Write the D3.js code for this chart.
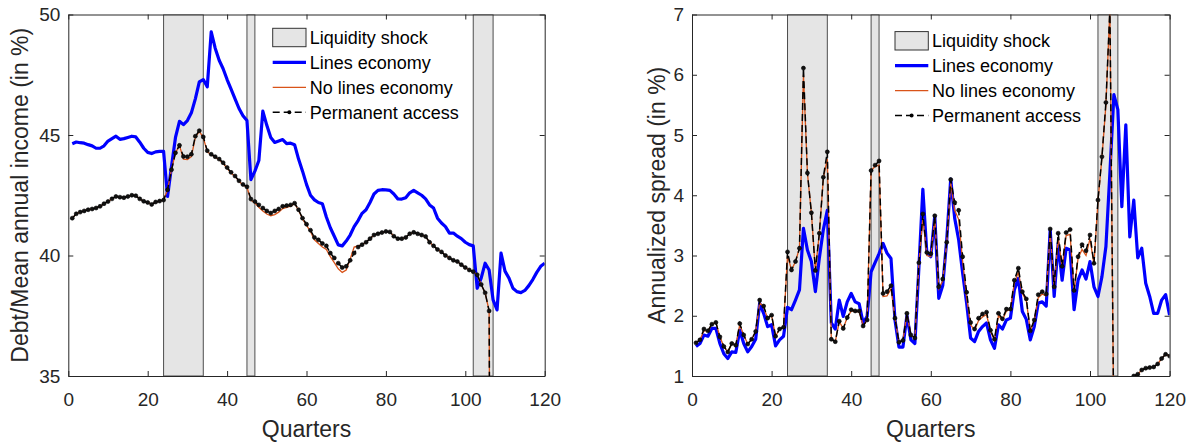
<!DOCTYPE html>
<html>
<head>
<meta charset="utf-8">
<script src="https://cdn.jsdelivr.net/npm/d3@7"></script>
<style>
  body { margin: 0; background: #fff; }
  svg { display: block; font-family: "Liberation Sans", Arial, sans-serif; }
  .axis path, .axis line { stroke: #262626; }
  .axis text { fill: #262626; font-size: 19px; }
</style>
</head>
<body>
<div id="chart"></div>
<script>
// liquidity shock periods (quarters)
const shockPeriods = [[24, 34], [45, 47], [102, 107]];

const xTicks = [0, 20, 40, 60, 80, 100, 120];
const leftYTicks = [35, 40, 45, 50];
const rightYTicks = [1, 2, 3, 4, 5, 6, 7];

const legendLabels = ["Liquidity shock", "Lines economy", "No lines economy", "Permanent access"];

// Debt / mean annual income (in %), quarters 1..120
const debtLines = [
  44.64, 44.71, 44.68, 44.66, 44.60, 44.55, 44.45, 44.45, 44.55, 44.75,
  44.85, 44.95, 44.82, 44.85, 44.90, 44.95, 44.92, 44.70, 44.45, 44.28,
  44.23, 44.30, 44.32, 44.32, 42.45, 43.70, 44.90, 45.57, 45.43, 45.60,
  45.92, 46.50, 47.20, 47.30, 47.00, 49.28, 48.60, 48.10, 47.75, 47.30,
  46.90, 46.50, 46.10, 45.80, 45.60, 43.15, 43.50, 43.94, 45.99, 45.40,
  44.90, 44.69, 44.75, 44.81, 44.64, 44.66, 44.60, 44.00, 43.50, 42.95,
  42.50, 42.31, 42.20, 42.15, 41.60, 41.15, 40.80, 40.44, 40.40, 40.60,
  40.85, 41.20, 41.45, 41.75, 41.90, 42.20, 42.55, 42.70, 42.73, 42.72,
  42.70, 42.55, 42.35, 42.34, 42.40, 42.60, 42.70, 42.60, 42.50, 42.35,
  42.10, 41.97, 41.55, 41.35, 41.20, 40.93, 40.93, 40.80, 40.70, 40.55,
  40.45, 40.40, 38.64, 39.06, 39.68, 39.40, 38.16, 37.74, 40.10, 39.35,
  39.06, 38.64, 38.50, 38.46, 38.55, 38.75, 39.00, 39.30, 39.55, 39.68
];
const debtNoLines = [
  41.55, 41.73, 41.80, 41.85, 41.90, 41.93, 41.97, 42.04, 42.15, 42.24,
  42.35, 42.45, 42.42, 42.40, 42.45, 42.50, 42.48, 42.35, 42.25, 42.20,
  42.12, 42.22, 42.26, 42.30, 42.73, 43.56, 44.26, 44.57, 44.00, 43.98,
  44.10, 44.90, 45.15, 44.90, 44.30, 44.18, 44.08, 43.98, 43.82, 43.62,
  43.42, 43.28, 43.08, 42.93, 42.83, 42.30, 42.18, 42.00, 41.85, 41.72,
  41.65, 41.70, 41.80, 41.95, 42.00, 42.05, 42.15, 41.88, 41.52, 41.25,
  41.00, 40.65, 40.50, 40.35, 40.25, 39.95, 39.70, 39.45, 39.30, 39.40,
  39.85, 40.35, 40.40, 40.45, 40.55, 40.70, 40.85, 40.90, 40.95, 41.00,
  40.98, 40.80, 40.70, 40.70, 40.75, 40.90, 40.96, 40.90, 40.85, 40.79,
  40.55, 40.40, 40.25, 40.15, 40.00, 39.90, 39.80, 39.75, 39.62, 39.50,
  39.40, 39.33, 39.20, 38.80, 38.45, 37.70, 0, 0, 0, 0,
  0, 0, 0, 0, 0, 0, 0, 0, 0, 0
];
const debtPermanent = [
  41.55, 41.73, 41.80, 41.85, 41.90, 41.93, 41.97, 42.04, 42.15, 42.24,
  42.35, 42.45, 42.42, 42.40, 42.45, 42.50, 42.48, 42.35, 42.25, 42.20,
  42.12, 42.22, 42.26, 42.30, 42.73, 43.56, 44.26, 44.57, 44.11, 44.10,
  44.20, 44.95, 45.18, 44.92, 44.35, 44.20, 44.10, 44.00, 43.85, 43.65,
  43.45, 43.30, 43.10, 42.95, 42.85, 42.34, 42.24, 42.10, 41.97, 41.85,
  41.76, 41.85, 41.93, 42.04, 42.07, 42.10, 42.17, 41.90, 41.55, 41.30,
  41.05, 40.75, 40.65, 40.50, 40.40, 40.10, 39.90, 39.68, 39.50, 39.55,
  39.80, 40.10, 40.35, 40.45, 40.55, 40.70, 40.85, 40.90, 40.95, 41.00,
  40.98, 40.80, 40.70, 40.70, 40.75, 40.90, 40.96, 40.90, 40.85, 40.79,
  40.55, 40.40, 40.25, 40.15, 40.00, 39.90, 39.80, 39.75, 39.62, 39.50,
  39.40, 39.33, 39.20, 38.80, 38.45, 37.70, 0, 0, 0, 0,
  0, 0, 0, 0, 0, 0, 0, 0, 0, 0
];

// Annualized spread (in %), quarters 1..120
const spreadLines = [
  1.49, 1.54, 1.68, 1.66, 1.79, 1.79, 1.54, 1.37, 1.29, 1.40,
  1.39, 1.76, 1.54, 1.40, 1.49, 1.61, 2.21, 2.04, 1.82, 1.85,
  1.50, 1.60, 1.66, 2.14, 2.10, 2.26, 2.43, 3.45, 3.09, 2.90,
  2.40, 2.96, 3.43, 3.75, 1.88, 1.78, 2.26, 1.99, 2.23, 2.37,
  2.23, 2.20, 1.88, 1.99, 2.73, 2.88, 3.03, 3.20, 3.04, 2.95,
  1.93, 1.48, 1.48, 2.01, 1.60, 1.54, 2.79, 4.10, 3.05, 2.98,
  3.66, 2.29, 2.50, 3.26, 4.27, 3.62, 3.26, 2.71, 2.21, 1.63,
  1.57, 1.74, 1.82, 1.88, 1.60, 1.46, 1.85, 1.78, 1.93, 1.96,
  2.43, 2.62, 2.07, 1.94, 1.60, 1.82, 2.21, 2.23, 2.16, 3.43,
  2.32, 3.20, 2.59, 3.12, 3.09, 2.10, 2.59, 2.76, 2.61, 2.90,
  2.48, 2.32, 2.65, 3.15, 4.37, 5.67, 5.42, 3.81, 5.17, 3.31,
  3.92, 2.96, 3.12, 2.54, 2.32, 2.04, 2.04, 2.26, 2.35, 2.01
];
const spreadNoLines = [
  1.55, 1.60, 1.75, 1.75, 1.86, 1.89, 1.65, 1.49, 1.40, 1.54,
  1.51, 1.85, 1.68, 1.53, 1.61, 1.74, 2.22, 2.14, 1.96, 2.00,
  1.66, 1.78, 1.81, 3.00, 2.76, 2.90, 3.12, 6.00, 4.37, 3.71,
  2.75, 3.37, 4.28, 4.60, 1.61, 1.57, 1.90, 1.79, 1.97, 2.08,
  2.07, 2.07, 1.83, 1.93, 4.41, 4.48, 4.50, 2.32, 2.33, 2.45,
  1.96, 1.56, 1.59, 2.04, 1.68, 1.63, 2.86, 3.62, 3.00, 2.98,
  3.62, 2.45, 2.58, 3.20, 4.20, 3.75, 3.60, 2.90, 2.30, 1.85,
  1.76, 1.92, 1.98, 2.02, 1.74, 1.60, 2.00, 1.93, 2.08, 2.10,
  2.55, 2.72, 2.37, 2.25, 1.75, 1.92, 2.30, 2.36, 2.33, 3.38,
  2.45, 3.30, 2.80, 3.33, 3.35, 2.40, 2.95, 3.10, 3.00, 3.28,
  2.85, 3.90, 4.62, 5.50, 7.10, 0, 0, 0, 0, 0,
  1.00, 1.03, 1.10, 1.13, 1.14, 1.15, 1.20, 1.29, 1.36, 1.33
];
const spreadPermanent = [
  1.55, 1.60, 1.78, 1.75, 1.86, 1.89, 1.65, 1.49, 1.40, 1.54,
  1.51, 1.87, 1.68, 1.53, 1.61, 1.74, 2.26, 2.16, 1.96, 2.01,
  1.66, 1.78, 1.81, 3.06, 2.76, 2.90, 3.12, 6.11, 4.37, 3.71,
  2.75, 3.37, 4.30, 4.72, 1.61, 1.57, 1.91, 1.79, 1.97, 2.10,
  2.08, 2.08, 1.83, 1.93, 4.41, 4.50, 4.57, 2.37, 2.40, 2.50,
  1.96, 1.56, 1.59, 2.04, 1.68, 1.63, 2.88, 3.69, 3.05, 3.03,
  3.66, 2.48, 2.61, 3.22, 4.26, 3.88, 3.75, 2.98, 2.39, 1.89,
  1.78, 1.96, 2.03, 2.06, 1.76, 1.61, 2.04, 1.95, 2.11, 2.11,
  2.59, 2.79, 2.40, 2.28, 1.75, 1.93, 2.35, 2.40, 2.36, 3.44,
  2.48, 3.37, 2.82, 3.38, 3.43, 2.42, 2.98, 3.18, 3.08, 3.34,
  2.87, 3.92, 4.64, 5.54, 7.10, 0, 0, 0, 0, 0,
  1.00, 1.03, 1.10, 1.13, 1.14, 1.15, 1.20, 1.29, 1.36, 1.33
];

const BLUE = "#0000ff", ORANGE = "#d95319", BAND = "#e5e5e5";

const svg = d3.select("#chart").append("svg")
  .attr("width", 1190)
  .attr("height", 443);

function drawPanel(p) {
  const x = d3.scaleLinear().domain([0, 120]).range([p.left, p.right]);
  const y = d3.scaleLinear().domain(p.yDomain).range([p.bottom, p.top]);
  const g = svg.append("g");

  g.append("clipPath").attr("id", p.id + "-clip")
    .append("rect")
    .attr("x", p.left).attr("y", p.top)
    .attr("width", p.right - p.left).attr("height", p.bottom - p.top);

  const plot = g.append("g").attr("clip-path", `url(#${p.id}-clip)`);

  // shock bands
  plot.selectAll("rect.band")
    .data(shockPeriods)
    .join("rect")
    .attr("class", "band")
    .attr("x", d => x(d[0]))
    .attr("width", d => x(d[1]) - x(d[0]))
    .attr("y", p.top)
    .attr("height", p.bottom - p.top)
    .attr("fill", BAND)
    .attr("stroke", "#4d4d4d")
    .attr("stroke-width", 1);

  const line = d3.line()
    .defined(d => d != null)
    .x((d, i) => x(i + 1))
    .y(d => y(d));

  plot.append("path").datum(p.lines)
    .attr("fill", "none").attr("stroke", BLUE)
    .attr("stroke-width", 3.2).attr("stroke-linejoin", "round")
    .attr("d", line);

  plot.append("path").datum(p.noLines)
    .attr("fill", "none").attr("stroke", ORANGE)
    .attr("stroke-width", 1.3)
    .attr("d", line);

  plot.append("path").datum(p.permanent)
    .attr("fill", "none").attr("stroke", "#000")
    .attr("stroke-width", 1.5).attr("stroke-dasharray", "7,4")
    .attr("d", line);

  plot.selectAll("circle.mk")
    .data(p.permanent.map((v, i) => ({ q: i + 1, v })).filter(d => d.v != null))
    .join("circle")
    .attr("class", "mk")
    .attr("cx", d => x(d.q))
    .attr("cy", d => y(d.v))
    .attr("r", 2)
    .attr("fill", "#111")
    .attr("stroke", "#000")
    .attr("stroke-width", 0.6);

  // axes, MATLAB style box with inward ticks
  g.append("g").attr("class", "axis")
    .attr("transform", `translate(0,${p.bottom})`)
    .call(d3.axisBottom(x).tickValues(xTicks).tickSizeInner(-5).tickSizeOuter(0).tickPadding(17));
  g.append("g").attr("class", "axis")
    .attr("transform", `translate(0,${p.top})`)
    .call(d3.axisTop(x).tickValues(xTicks).tickSizeInner(-5).tickSizeOuter(0).tickFormat(""));
  g.append("g").attr("class", "axis")
    .attr("transform", `translate(${p.left},0)`)
    .call(d3.axisLeft(y).tickValues(p.yTicks).tickFormat(d3.format("d"))
      .tickSizeInner(-5).tickSizeOuter(0).tickPadding(8));
  g.append("g").attr("class", "axis")
    .attr("transform", `translate(${p.right},0)`)
    .call(d3.axisRight(y).tickValues(p.yTicks).tickSizeInner(-5).tickSizeOuter(0).tickFormat(""));

  // axis titles
  g.append("text")
    .attr("x", (p.left + p.right) / 2).attr("y", 437)
    .attr("text-anchor", "middle")
    .attr("font-size", 23).attr("fill", "#262626")
    .text("Quarters");
  g.append("text")
    .attr("transform", `translate(${p.ylabelX},${(p.top + p.bottom) / 2}) rotate(-90)`)
    .attr("text-anchor", "middle")
    .attr("font-size", 23).attr("fill", "#262626")
    .text(p.ylabel);

  // legend
  const lg = g.append("g").attr("transform", `translate(${p.legX},${p.legY})`);
  const rowH = 24.9;
  lg.append("rect")
    .attr("x", 0).attr("y", -9.2).attr("width", 33.3).attr("height", 18.4)
    .attr("fill", BAND).attr("stroke", "#333").attr("stroke-width", 1);
  lg.append("line")
    .attr("x1", 0).attr("x2", 33.3).attr("y1", rowH).attr("y2", rowH)
    .attr("stroke", BLUE).attr("stroke-width", 3.2);
  lg.append("line")
    .attr("x1", 0).attr("x2", 33.3).attr("y1", rowH * 2).attr("y2", rowH * 2)
    .attr("stroke", ORANGE).attr("stroke-width", 1.3);
  lg.append("line")
    .attr("x1", 0).attr("x2", 33.3).attr("y1", rowH * 3).attr("y2", rowH * 3)
    .attr("stroke", "#000").attr("stroke-width", 1.5).attr("stroke-dasharray", "7,4");
  lg.append("circle")
    .attr("cx", 16.6).attr("cy", rowH * 3).attr("r", 2).attr("fill", "#000");
  lg.selectAll("text.lab")
    .data(legendLabels)
    .join("text")
    .attr("class", "lab")
    .attr("x", 37).attr("y", (d, i) => i * rowH + 6.5)
    .attr("font-size", 18).attr("fill", "#000")
    .text(d => d);
}

drawPanel({
  id: "left", left: 68.3, right: 544.7, top: 14.5, bottom: 376,
  yDomain: [35, 50], yTicks: leftYTicks,
  lines: debtLines, noLines: debtNoLines, permanent: debtPermanent,
  ylabel: "Debt/Mean annual income (in %)", ylabelX: 28,
  legX: 272.7, legY: 37.5
});

drawPanel({
  id: "right", left: 692, right: 1169.6, top: 14.5, bottom: 376,
  yDomain: [1, 7], yTicks: rightYTicks,
  lines: spreadLines, noLines: spreadNoLines, permanent: spreadPermanent,
  ylabel: "Annualized spread (in %)", ylabelX: 665,
  legX: 895, legY: 40.8
});
</script>
</body>
</html>
